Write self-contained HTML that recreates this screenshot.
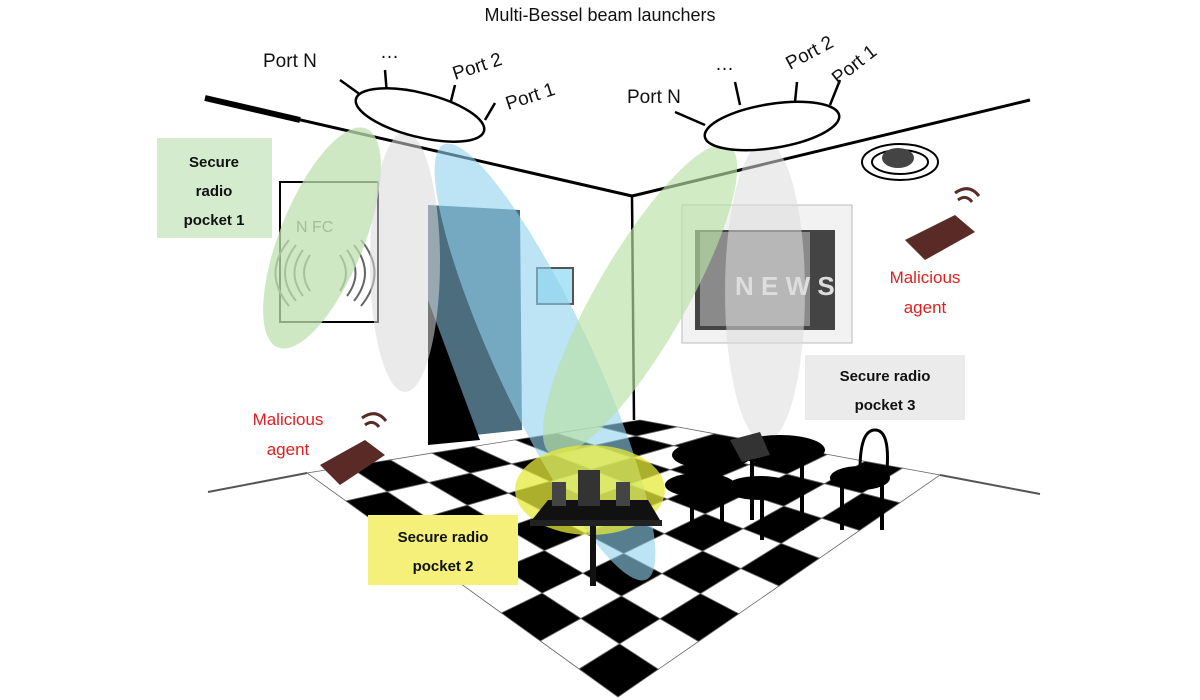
<!DOCTYPE html>
<html><head><meta charset="utf-8"><style>
html,body{margin:0;padding:0;background:#fff;}
svg{display:block;}
text{font-family:"Liberation Sans",sans-serif;}
</style></head><body>
<svg id="s" width="1200" height="700" viewBox="0 0 1200 700" xmlns="http://www.w3.org/2000/svg">
<rect width="1200" height="700" fill="#fff"/>
<!-- floor lines -->
<line x1="208" y1="492" x2="307" y2="473" stroke="#555" stroke-width="2"/>
<line x1="940" y1="475" x2="1040" y2="494" stroke="#555" stroke-width="2"/>
<g id="floor"></g>
<!-- walls -->
<line x1="205" y1="98" x2="632" y2="196" stroke="#000" stroke-width="3"/>
<line x1="205" y1="98" x2="300" y2="120" stroke="#000" stroke-width="6"/>
<line x1="632" y1="196" x2="1030" y2="100" stroke="#000" stroke-width="3"/>
<line x1="632" y1="196" x2="634" y2="420" stroke="#000" stroke-width="2.5"/>
<!-- NFC frame -->
<rect x="280" y="182" width="98" height="140" fill="#fff" stroke="#000" stroke-width="2"/>
<text x="296" y="232" font-size="16" fill="#555">N FC</text>
<g fill="none" stroke="#666" stroke-width="2">
<path d="M310 255 q-12 18 0 36"/><path d="M303 250 q-17 23 0 46"/><path d="M296 245 q-22 28 0 56"/><path d="M289 240 q-27 33 0 66"/>
<path d="M340 255 q12 18 0 36"/><path d="M347 250 q17 23 0 46"/><path d="M354 245 q22 28 0 56"/><path d="M361 240 q27 33 0 66"/>
</g>
<!-- door -->
<polygon points="428,205 520,210 522,430 428,440" fill="#4b6d7e"/>
<polygon points="428,300 480,440 428,445" fill="#000"/>
<rect x="537" y="268" width="36" height="36" fill="#aee4f5" stroke="#555" stroke-width="2"/>
<!-- TV -->
<rect x="682" y="205" width="170" height="138" fill="#f2f2f2" stroke="#bbb"/>
<rect x="695" y="230" width="140" height="100" fill="#444"/>
<rect x="700" y="232" width="110" height="94" fill="#8a8a8a"/>
<text x="735" y="295" font-size="26" fill="#ddd" font-weight="bold">N E W S</text>
<!-- beams -->
<ellipse cx="322" cy="238" rx="42" ry="118" transform="rotate(22 322 238)" fill="#bfe0b0" opacity="0.75"/>
<ellipse cx="405" cy="262" rx="35" ry="130" fill="#d8d8d8" opacity="0.55"/>
<ellipse cx="545" cy="362" rx="48" ry="240" transform="rotate(-25 545 362)" fill="#8fd2ee" opacity="0.6"/>
<ellipse cx="640" cy="300" rx="45" ry="178" transform="rotate(30 640 300)" fill="#b8e0a5" opacity="0.65"/>
<ellipse cx="765" cy="292" rx="40" ry="150" fill="#dcdcdc" opacity="0.55"/>
<ellipse cx="590" cy="490" rx="75" ry="45" fill="#e6ea3a" opacity="0.75"/>
<!-- table + speakers -->
<polygon points="548,500 648,500 660,520 532,520" fill="#111"/>
<rect x="530" y="520" width="132" height="6" fill="#222"/>
<rect x="590" y="526" width="6" height="60" fill="#111"/>
<rect x="578" y="470" width="22" height="36" fill="#333"/>
<rect x="552" y="482" width="14" height="24" fill="#444"/>
<rect x="616" y="482" width="14" height="24" fill="#444"/>
<!-- chairs/tables silhouettes -->
<g fill="#000">
<ellipse cx="712" cy="455" rx="40" ry="14"/><ellipse cx="780" cy="450" rx="45" ry="15"/>
<ellipse cx="700" cy="485" rx="35" ry="12"/><ellipse cx="760" cy="488" rx="35" ry="12"/><ellipse cx="860" cy="478" rx="30" ry="12"/>
<rect x="690" y="490" width="4" height="45"/><rect x="720" y="490" width="4" height="45"/><rect x="760" y="490" width="4" height="50"/><rect x="800" y="460" width="4" height="70"/>
<rect x="840" y="480" width="4" height="50"/><rect x="880" y="480" width="4" height="50"/><rect x="750" y="460" width="4" height="60"/>
</g>
<path d="M860 470 q0 -40 15 -40 q15 0 12 40" fill="none" stroke="#000" stroke-width="3"/>
<polygon points="730,440 760,432 770,455 742,462" fill="#333"/>
<!-- launchers -->
<g stroke="#000" stroke-width="2.5" fill="#fff">
<line x1="340" y1="80" x2="365" y2="98"/><line x1="385" y1="70" x2="387" y2="95"/><line x1="455" y1="85" x2="450" y2="105"/><line x1="495" y1="103" x2="485" y2="120"/>
<ellipse cx="420" cy="115" rx="66" ry="22" transform="rotate(14 420 115)"/>
<line x1="675" y1="112" x2="705" y2="125"/><line x1="735" y1="82" x2="740" y2="105"/><line x1="797" y1="82" x2="795" y2="102"/><line x1="840" y1="80" x2="830" y2="105"/>
<ellipse cx="772" cy="126" rx="68" ry="22" transform="rotate(-9 772 126)"/>
</g>
<text x="600" y="21" font-size="18" text-anchor="middle" fill="#111">Multi-Bessel beam launchers</text>
<g font-size="19" fill="#111">
<text x="263" y="67">Port N</text><text x="380" y="58">…</text>
<text x="455" y="80" transform="rotate(-18 455 80)">Port 2</text>
<text x="508" y="110" transform="rotate(-18 508 110)">Port 1</text>
<text x="627" y="103">Port N</text><text x="715" y="70">…</text>
<text x="790" y="70" transform="rotate(-28 790 70)">Port 2</text>
<text x="838" y="85" transform="rotate(-38 838 85)">Port 1</text>
</g>
<!-- ceiling device -->
<ellipse cx="900" cy="162" rx="38" ry="18" fill="none" stroke="#000" stroke-width="2"/>
<ellipse cx="900" cy="162" rx="28" ry="12" fill="none" stroke="#000" stroke-width="2"/>
<ellipse cx="898" cy="158" rx="16" ry="10" fill="#444"/>
<!-- phones -->
<polygon points="320,465 365,440 385,455 340,485" fill="#5a2a26"/>
<polygon points="905,240 955,215 975,232 925,260" fill="#5a2a26"/>
<g fill="none" stroke="#5a2a26" stroke-width="3">
<path d="M365 425 q8 -6 14 2"/><path d="M362 418 q14 -10 24 3"/>
<path d="M958 200 q8 -6 14 2"/><path d="M955 193 q14 -10 24 3"/>
</g>
<!-- labels -->
<rect x="157" y="138" width="115" height="100" fill="#d4ebcd"/>
<text font-size="15" font-weight="bold" fill="#111" text-anchor="middle"><tspan x="214" y="167">Secure</tspan><tspan x="214" y="196">radio</tspan><tspan x="214" y="225">pocket 1</tspan></text>
<rect x="805" y="355" width="160" height="65" fill="#ebebeb"/>
<text font-size="15" font-weight="bold" fill="#111" text-anchor="middle"><tspan x="885" y="381">Secure radio</tspan><tspan x="885" y="410">pocket 3</tspan></text>
<rect x="368" y="515" width="150" height="70" fill="#f5f07a"/>
<text font-size="15" font-weight="bold" fill="#111" text-anchor="middle"><tspan x="443" y="542">Secure radio</tspan><tspan x="443" y="571">pocket 2</tspan></text>
<text font-size="17" fill="#e02020" text-anchor="middle"><tspan x="288" y="425">Malicious</tspan><tspan x="288" y="455">agent</tspan></text>
<text font-size="17" fill="#e02020" text-anchor="middle"><tspan x="925" y="283">Malicious</tspan><tspan x="925" y="313">agent</tspan></text>
</svg>
<script>
(function(){
var B=[640,420],L=[307,473],R=[940,475],F=[618,697],n=8,g=document.getElementById('floor'),ns="http://www.w3.org/2000/svg";
function p(u,v){var x=(1-u)*(1-v)*B[0]+u*(1-v)*R[0]+(1-u)*v*L[0]+u*v*F[0];var y=(1-u)*(1-v)*B[1]+u*(1-v)*R[1]+(1-u)*v*L[1]+u*v*F[1];return x.toFixed(1)+","+y.toFixed(1);}
for(var i=0;i<n;i++)for(var j=0;j<n;j++){var e=document.createElementNS(ns,"polygon");
e.setAttribute("points",[p(i/n,j/n),p((i+1)/n,j/n),p((i+1)/n,(j+1)/n),p(i/n,(j+1)/n)].join(" "));
e.setAttribute("fill",(i+j)%2?"#fff":"#000");e.setAttribute("stroke","#666");e.setAttribute("stroke-width","0.8");g.appendChild(e);}
})();
</script>
</body></html>
